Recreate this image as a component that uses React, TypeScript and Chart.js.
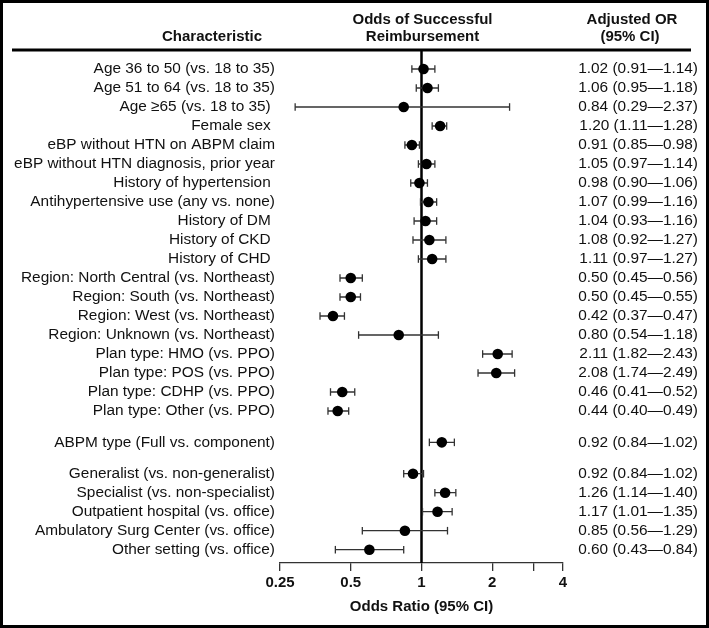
import React, { useEffect, useRef } from "react";
import { Chart, registerables } from "chart.js";

Chart.register(...registerables);

// ---------------- DATA ----------------
const characteristics: string[] = [
  "Age 36 to 50 (vs. 18 to 35)",
  "Age 51 to 64 (vs. 18 to 35)",
  "Age \u226565 (vs. 18 to 35) ",
  "Female sex ",
  "eBP without HTN on ABPM claim",
  "eBP without HTN diagnosis, prior year",
  "History of hypertension ",
  "Antihypertensive use (any vs. none)",
  "History of DM ",
  "History of CKD ",
  "History of CHD ",
  "Region: North Central (vs. Northeast)",
  "Region: South (vs. Northeast)",
  "Region: West (vs. Northeast)",
  "Region: Unknown (vs. Northeast)",
  "Plan type: HMO (vs. PPO)",
  "Plan type: POS (vs. PPO)",
  "Plan type: CDHP (vs. PPO)",
  "Plan type: Other (vs. PPO)",
  "ABPM type (Full vs. component)",
  "Generalist (vs. non-generalist)",
  "Specialist (vs. non-specialist)",
  "Outpatient hospital (vs. office)",
  "Ambulatory Surg Center (vs. office)",
  "Other setting (vs. office)",
];

// plotted odds ratios
const oddsRatios: number[] = [
  1.02, 1.06, 0.84, 1.2, 0.91, 1.05, 0.98, 1.07, 1.04, 1.08, 1.11,
  0.5, 0.5, 0.42, 0.8, 2.11, 2.08, 0.46, 0.44,
  1.22,
  0.92, 1.26, 1.17, 0.85, 0.6,
];
const ciLower: number[] = [
  0.91, 0.95, 0.29, 1.11, 0.85, 0.97, 0.9, 0.99, 0.93, 0.92, 0.97,
  0.45, 0.45, 0.37, 0.54, 1.82, 1.74, 0.41, 0.4,
  1.08,
  0.84, 1.14, 1.01, 0.56, 0.43,
];
const ciUpper: number[] = [
  1.14, 1.18, 2.37, 1.28, 0.98, 1.14, 1.06, 1.16, 1.16, 1.27, 1.27,
  0.56, 0.55, 0.47, 1.18, 2.43, 2.49, 0.52, 0.49,
  1.38,
  1.02, 1.4, 1.35, 1.29, 0.84,
];

// text column as printed
const orText: string[] = [
  "1.02 (0.91\u20141.14)",
  "1.06 (0.95\u20141.18)",
  "0.84 (0.29\u20142.37)",
  "1.20 (1.11\u20141.28)",
  "0.91 (0.85\u20140.98)",
  "1.05 (0.97\u20141.14)",
  "0.98 (0.90\u20141.06)",
  "1.07 (0.99\u20141.16)",
  "1.04 (0.93\u20141.16)",
  "1.08 (0.92\u20141.27)",
  "1.11 (0.97\u20141.27)",
  "0.50 (0.45\u20140.56)",
  "0.50 (0.45\u20140.55)",
  "0.42 (0.37\u20140.47)",
  "0.80 (0.54\u20141.18)",
  "2.11 (1.82\u20142.43)",
  "2.08 (1.74\u20142.49)",
  "0.46 (0.41\u20140.52)",
  "0.44 (0.40\u20140.49)",
  "0.92 (0.84\u20141.02)",
  "0.92 (0.84\u20141.02)",
  "1.26 (1.14\u20141.40)",
  "1.17 (1.01\u20141.35)",
  "0.85 (0.56\u20141.29)",
  "0.60 (0.43\u20140.84)",
];

// block each row belongs to (blocks are separated by a blank gap)
const rowGroups: number[] = [
  0, 0, 0, 0, 0, 0, 0, 0, 0, 0, 0, 0, 0, 0, 0, 0, 0, 0, 0,
  1,
  2, 2, 2, 2, 2,
];

const xTickValues: number[] = [0.25, 0.5, 1, 2, 3, 4];
const xTickLabels: string[] = ["0.25", "0.5", "1", "2", "", "4"];
const referenceValue = 1;

const headerCharacteristic = "Characteristic";
const headerPlot: string[] = ["Odds of Successful", "Reimbursement"];
const headerOR: string[] = ["Adjusted OR", "(95% CI)"];
const xAxisTitle = "Odds Ratio (95% CI)";

// ---------------- STYLE ----------------
const W = 709;
const H = 628;
const FONT = "'Liberation Sans', Arial, Helvetica, sans-serif";
const GROUP_GAP = 0.65;
const Y_MIN = -1;
const Y_MAX = 26;

const rowPos = (i: number) => i + rowGroups[i] * GROUP_GAP;

export default function App() {
  const canvasRef = useRef<HTMLCanvasElement | null>(null);

  useEffect(() => {
    const canvas = canvasRef.current;
    if (!canvas) return;

    const ciData: any[] = [];
    oddsRatios.forEach((_, i) => {
      const y = rowPos(i);
      ciData.push({ x: ciLower[i], y });
      ciData.push({ x: ciUpper[i], y });
      ciData.push({ x: ciUpper[i], y: null });
    });

    const textPlugin = {
      id: "forestText",
      beforeDraw(chart: any) {
        const ctx = chart.ctx;
        ctx.save();
        ctx.fillStyle = "#ffffff";
        ctx.fillRect(0, 0, W, H);
        ctx.restore();
      },
      afterDraw(chart: any) {
        const ctx = chart.ctx;
        const ys = chart.scales.y;
        const xs = chart.scales.x;
        const area = chart.chartArea;
        ctx.save();
        ctx.fillStyle = "#111";
        ctx.textBaseline = "middle";

        // headers
        ctx.font = `bold 15px ${FONT}`;
        ctx.textAlign = "center";
        ctx.fillText(headerCharacteristic, 212, 37);
        const cx = xs.getPixelForValue(referenceValue);
        ctx.fillText(headerPlot[0], cx + 1, 20);
        ctx.fillText(headerPlot[1], cx + 1, 37);
        ctx.fillText(headerOR[0], 632, 20);
        ctx.fillText(headerOR[1], 630, 37);

        // header rule
        ctx.strokeStyle = "#000";
        ctx.lineWidth = 3;
        ctx.beginPath();
        ctx.moveTo(12, area.top);
        ctx.lineTo(691, area.top);
        ctx.stroke();

        // row labels
        ctx.font = `15.4px ${FONT}`;
        characteristics.forEach((label, i) => {
          const y = ys.getPixelForValue(rowPos(i));
          ctx.textAlign = "right";
          ctx.fillText(label, 275, y);
          ctx.fillText(orText[i], 698, y);
        });

        // outer frame
        ctx.strokeStyle = "#000";
        ctx.lineWidth = 3;
        ctx.strokeRect(1.5, 1.5, W - 3, H - 3);
        ctx.restore();
      },
    };

    const chart = new Chart(canvas, {
      type: "scatter",
      data: {
        datasets: [
          {
            type: "line",
            label: "reference",
            data: [
              { x: referenceValue, y: Y_MIN },
              { x: referenceValue, y: Y_MAX },
            ],
            borderColor: "#000",
            borderWidth: 2.5,
            pointRadius: 0,
            order: 3,
          } as any,
          {
            type: "line",
            label: "95% CI",
            data: ciData,
            borderColor: "#333",
            borderWidth: 1.3,
            spanGaps: false,
            pointStyle: "line",
            rotation: 90,
            pointRadius: 3.8,
            pointBorderWidth: 1.3,
            pointBorderColor: "#333",
            pointHoverRadius: 3.8,
            order: 2,
          } as any,
          {
            type: "scatter",
            label: "OR",
            data: oddsRatios.map((v, i) => ({ x: v, y: rowPos(i) })),
            backgroundColor: "#000",
            borderColor: "#000",
            pointRadius: 5.3,
            pointBorderWidth: 0,
            order: 1,
          } as any,
        ],
      },
      options: {
        responsive: false,
        animation: false,
        events: [],
        layout: { padding: { left: 280, right: 146, top: 50, bottom: 0 } },
        plugins: {
          legend: { display: false },
          tooltip: { enabled: false },
        },
        scales: {
          x: {
            type: "logarithmic",
            min: 0.25,
            max: 4,
            afterBuildTicks: (scale: any) => {
              scale.ticks = xTickValues.map((v) => ({ value: v }));
            },
            afterFit: (scale: any) => {
              scale.height = 65;
            },
            ticks: {
              autoSkip: false,
              maxRotation: 0,
              padding: 3,
              color: "#111",
              font: { family: FONT, size: 15, weight: "bold" },
              callback: (_v: any, i: number) => xTickLabels[i],
            },
            grid: {
              drawOnChartArea: false,
              drawTicks: true,
              tickLength: 8,
              color: "#333",
              lineWidth: 1.3,
            },
            border: { display: true, color: "#333", width: 1.3 },
            title: {
              display: true,
              text: xAxisTitle,
              color: "#111",
              font: { family: FONT, size: 15, weight: "bold" },
              padding: { top: 0, bottom: 12 },
            },
          } as any,
          y: {
            type: "linear",
            reverse: true,
            min: Y_MIN,
            max: Y_MAX,
            display: false,
          },
        },
      },
      plugins: [textPlugin],
    });

    return () => chart.destroy();
  }, []);

  return (
    <div style={{ position: "fixed", left: 0, top: 0, width: W, height: H, background: "#fff" }}>
      <canvas ref={canvasRef} width={W} height={H} style={{ display: "block" }} />
    </div>
  );
}
